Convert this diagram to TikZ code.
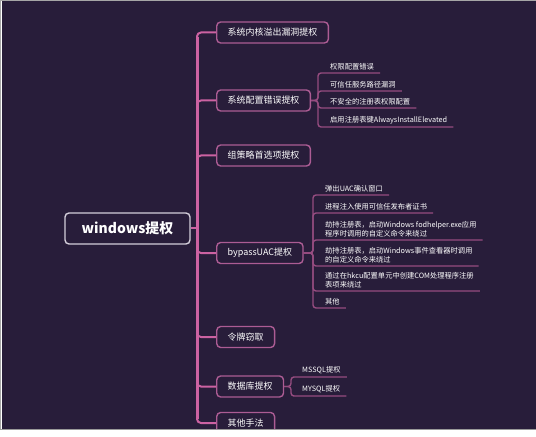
\documentclass[tikz,border=0pt]{standalone}
\usepackage{fontspec}
\setmainfont{Noto Sans CJK SC}
\definecolor{bgpurple}{RGB}{40,29,58}
\definecolor{trunkpink}{RGB}{204,98,162}
\definecolor{topicpink}{RGB}{172,92,148}
\definecolor{leafpink}{RGB}{150,76,128}
\definecolor{rootgray}{RGB}{212,206,218}
\tikzset{
  topic/.style={draw=topicpink,line width=1.4bp,rounded corners=4bp,text=white,
    font=\fontsize{9}{11}\selectfont,inner xsep=11bp,minimum height=21bp,anchor=west},
  leaf/.style={text=white,font=\fontsize{7.3}{8.8}\selectfont,inner xsep=6bp,
    inner ysep=3bp,anchor=south west,align=left},
  branch/.style={draw=trunkpink,line width=2bp,rounded corners=4bp},
  subline/.style={draw=leafpink,line width=1.4bp,rounded corners=3bp}
}
\begin{document}
\begin{tikzpicture}[x=1bp,y=-1bp]
            \useasboundingbox (0,0) rectangle (536,437);
            \fill [white] (0,0) rectangle (536,437);
            \fill [bgpurple] (1.5,1.5) rectangle (536,429.5);
            \draw [gray!70, line width=1bp] (0.5,429.5) -- (0.5,0.5) -- (536,0.5);
            % root
            \node [draw=rootgray,line width=1.4bp,rounded corners=4bp,text=white,
                   font=\fontsize{14}{16}\selectfont\bfseries,minimum width=125bp,
                   minimum height=31bp] (root) at (127.5,228.5){windows提权};
            \coordinate (trunk) at (197,228.5);
            % first level
            \node [topic] (kernel) at (216,32.5){系统内核溢出漏洞提权};
            \node [topic] (config) at (216,100.5){系统配置错误提权};
            \node [topic] (gpp) at (216,155.5){组策略首选项提权};
            \node [topic] (uac) at (216,253){bypassUAC提权};
            \node [topic] (token) at (216,337){令牌窃取};
            \node [topic] (db) at (216,386.5){数据库提权};
            \node [topic] (other) at (216,423){其他手法};
            \draw [branch] (root.east) -- (trunk);
            \draw [trunkpink, line width=3bp] (197,37) -- (197,419);
            \foreach \t in {kernel,config,gpp,uac,token,db,other}
                \draw [branch] (trunk) |- (\t.west);
            % config leaves
            \coordinate (cfgbar) at (318,100.5);
            \node [leaf] (perm) at (324,73){权限配置错误};
            \node [leaf] (path) at (324,91){可信任服务路径漏洞};
            \node [leaf] (reg) at (324,108){不安全的注册表权限配置};
            \node [leaf] (aie) at (324,127){启用注册表键AlwaysInstallElevated};
            \foreach \l in {perm,path,reg,aie}
                \draw [subline] (config.east) -- (cfgbar) |- (\l.south west) -- (\l.south east);
            % bypassUAC leaves
            \coordinate (uacbar) at (313,253);
            \node [leaf] (popup) at (319,195){弹出UAC确认窗口};
            \node [leaf] (inject) at (319,213){进程注入使用可信任发布者证书};
            \node [leaf] (fod) at (319,240){劫持注册表，启动Windows fodhelper.exe应用\\程序时调用的自定义命令来绕过};
            \node [leaf] (event) at (319,266){劫持注册表，启动Windows事件查看器时调用\\的自定义命令来绕过};
            \node [leaf] (hkcu) at (319,291){通过在hkcu配置单元中创建COM处理程序注册\\表项来绕过};
            \node [leaf] (misc) at (319,308){其他};
            \foreach \l in {popup,inject,fod,event,hkcu,misc}
                \draw [subline] (uac.east) -- (uacbar) |- (\l.south west) -- (\l.south east);
            % database leaves
            \coordinate (dbbar) at (291,386.5);
            \node [leaf] (mssql) at (296,377){MSSQL提权};
            \node [leaf] (mysql) at (296,396){MYSQL提权};
            \foreach \l in {mssql,mysql}
                \draw [subline] (db.east) -- (dbbar) |- (\l.south west) -- (\l.south east);
            % bottom edge cuts the last topic
            \fill [white] (0,430) rectangle (536,437);
            \draw [gray!80, line width=0.8bp] (0,429.8) -- (536,429.8);
\end{tikzpicture}
\end{document}
